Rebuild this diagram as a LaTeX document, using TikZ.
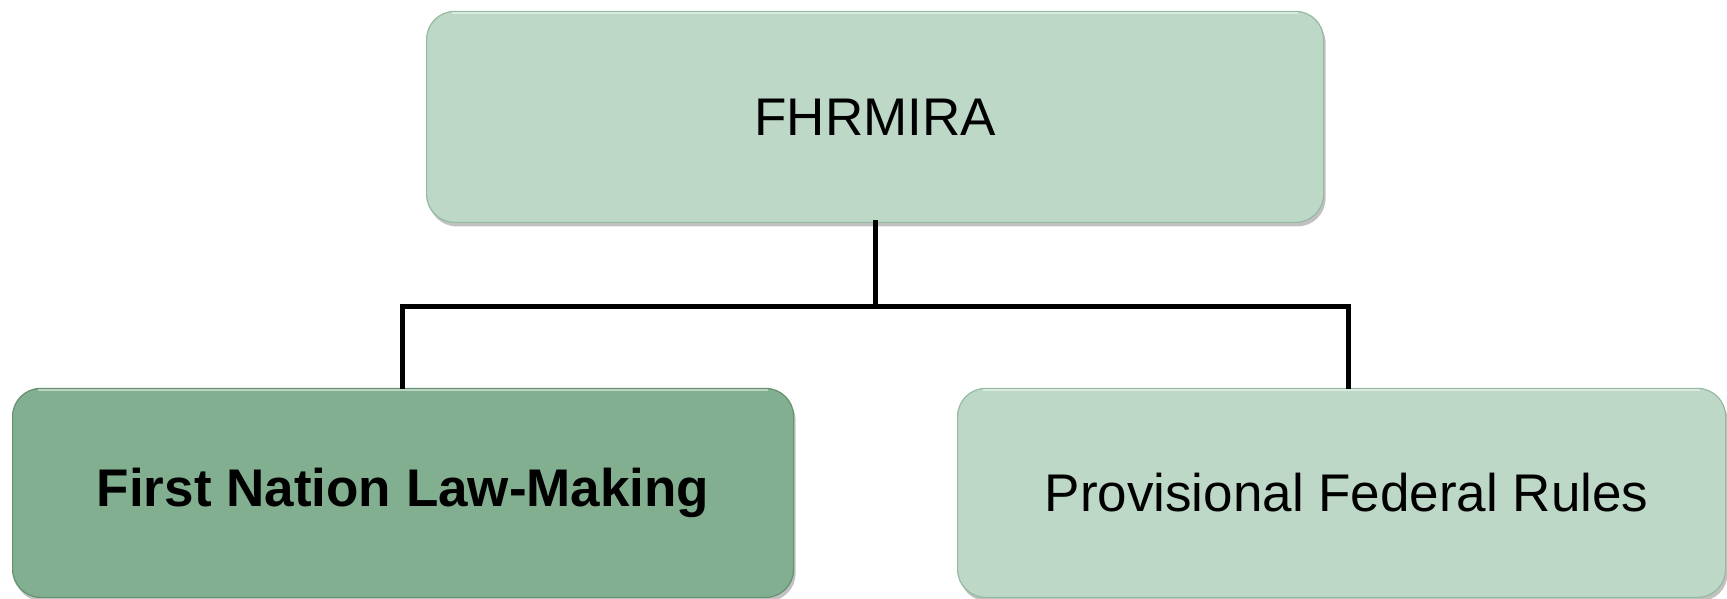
\documentclass[tikz,border=0pt]{standalone}
\usepackage{fontspec}
\setmainfont{Liberation Sans}
\usetikzlibrary{shadows,calc}
\definecolor{boxlight}{RGB}{189,216,199}
\definecolor{boxdark}{RGB}{130,175,144}
\definecolor{edgelight}{RGB}{150,185,162}
\definecolor{edgedark}{RGB}{100,145,114}
\tikzset{
  orgbox/.style={rounded corners=28pt, inner sep=0pt, anchor=south west,
    draw=#1, line width=1.2pt,
    drop shadow={shadow xshift=2pt, shadow yshift=-4pt, opacity=0.35, fill=black!70},
    font=\fontsize{53}{60}\selectfont},
  lightbox/.style={orgbox=edgelight, fill=boxlight},
  darkbox/.style={orgbox=edgedark, fill=boxdark},
  conn/.style={draw=black, line width=5pt, line cap=rect},
}
\begin{document}
\begin{tikzpicture}[x=1pt,y=1pt]
\useasboundingbox (0,0) rectangle (1727,599);

% boxes
\node[lightbox, minimum width=897pt, minimum height=211pt] (top) at (426,376) {FHRMIRA};
\node[darkbox, minimum width=781pt, minimum height=209pt] (left) at (12,1) {\textbf{First Nation Law-Making}};
\node[lightbox, minimum width=768pt, minimum height=209pt] (right) at (957,1) {\hspace*{10pt}Provisional Federal Rules};

% top highlights
\foreach \n in {top,left,right}{
  \draw[white, opacity=0.45, line width=2pt]
    ([xshift=26pt,yshift=-2pt]\n.north west) -- ([xshift=-26pt,yshift=-2pt]\n.north east);
}

% connectors
\coordinate (barL) at (402,292);
\coordinate (barR) at (1348,292);
\coordinate (dropL) at (402,210);
\coordinate (dropR) at (1348,210);
\draw[conn] (top.south) -- (top.south |- barL);
\draw[conn, line cap=butt] (dropL) -- (barL) -- (barR) -- (dropR);
\end{tikzpicture}
\end{document}
